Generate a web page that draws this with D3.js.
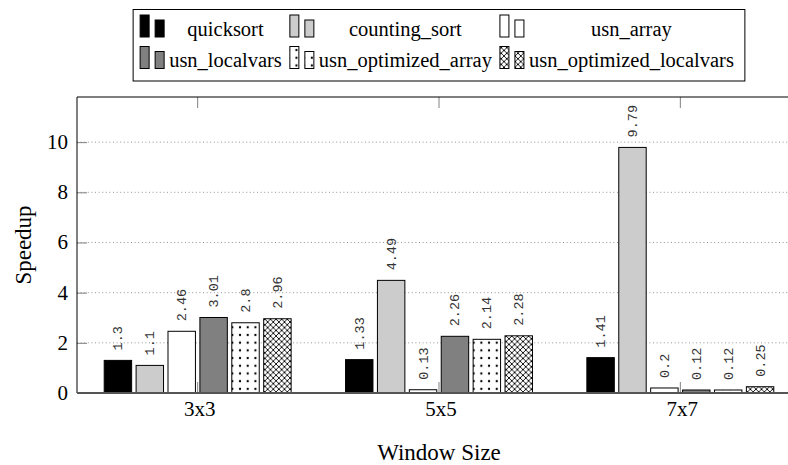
<!DOCTYPE html>
<html>
<head>
<meta charset="utf-8">
<script src="https://cdn.jsdelivr.net/npm/d3@7"></script>
<style>
  body { margin: 0; background: #fff; }
  svg { display: block; }
  text { font-family: "Liberation Serif", "Times New Roman", serif; fill: #000; }
</style>
</head>
<body>
<div id="chart"></div>
<script>
// donnees
const categories = ["3x3", "5x5", "7x7"];
const series = ["quicksort", "counting_sort", "usn_array", "usn_localvars", "usn_optimized_array", "usn_optimized_localvars"];
const quicksort = [1.3, 1.33, 1.41];
const countingSort = [1.1, 4.49, 9.79];
const usnArray = [2.46, 0.13, 0.2];
const usnLocalvars = [3.01, 2.26, 0.12];
const usnOptimizedArray = [2.8, 2.14, 0.12];
const usnOptimizedLocalvars = [2.96, 2.28, 0.25];
const yTicks = [0, 2, 4, 6, 8, 10];

const values = [quicksort, countingSort, usnArray, usnLocalvars, usnOptimizedArray, usnOptimizedLocalvars];
const fills = ["#000", "#cccccc", "#fff", "#808080", "url(#dots)", "url(#crosshatch)"];

const W = 788, H = 465;
const plot = { left: 77, right: 801, top: 97, bottom: 393 };

const svg = d3.select("#chart").append("svg")
    .attr("width", W)
    .attr("height", H);

// motifs
const defs = svg.append("defs");
const dots = defs.append("pattern")
    .attr("id", "dots")
    .attr("patternUnits", "userSpaceOnUse")
    .attr("width", 7.7).attr("height", 7.7);
dots.append("rect").attr("width", 7.7).attr("height", 7.7).attr("fill", "#fff");
dots.append("circle").attr("cx", 3.85).attr("cy", 3.85).attr("r", 1.15).attr("fill", "#000");

const hatch = defs.append("pattern")
    .attr("id", "crosshatch")
    .attr("patternUnits", "userSpaceOnUse")
    .attr("width", 5.6).attr("height", 5.6);
hatch.append("rect").attr("width", 5.6).attr("height", 5.6).attr("fill", "#fff");
hatch.append("path")
    .attr("d", "M0,0L5.6,5.6M5.6,0L0,5.6M-1,1L1,-1M4.6,6.6L6.6,4.6M-1,4.6L1,6.6M4.6,-1L6.6,1")
    .attr("stroke", "#000").attr("stroke-width", 0.9);

const x0 = d3.scaleBand().domain(categories).range([plot.left, plot.right]);
const half = 6 * 31.9 / 2;
const x1 = d3.scaleBand().domain(series).range([-half, half]).paddingInner(0.14).paddingOuter(0.07);
const y = d3.scaleLinear().domain([0, 11.8]).range([plot.bottom, plot.top]);
const cx = c => x0(c) + x0.bandwidth() / 2;

// grille pointillee
svg.append("g")
    .selectAll("line")
    .data(yTicks.filter(d => d > 0))
    .join("line")
    .attr("x1", plot.left).attr("x2", plot.right)
    .attr("y1", d => y(d)).attr("y2", d => y(d))
    .attr("stroke", "#8a8a8a")
    .attr("stroke-width", 0.9)
    .attr("stroke-dasharray", "1,2.6");

// axe y
const yAxis = svg.append("g")
    .attr("transform", `translate(${plot.left},0)`)
    .call(d3.axisRight(y).tickValues(yTicks).tickSize(10).tickFormat(""));
yAxis.select(".domain").remove();
yAxis.selectAll(".tick line").attr("stroke", "#808080");

svg.append("g")
    .selectAll("text")
    .data(yTicks)
    .join("text")
    .attr("x", 68)
    .attr("y", d => y(d) + 7)
    .attr("text-anchor", "end")
    .style("font-size", "21px")
    .text(d => d);

// ticks haut et bas
const xTop = svg.append("g")
    .attr("transform", `translate(0,${plot.top})`)
    .call(d3.axisBottom(x0).tickSize(11).tickFormat(""));
xTop.select(".domain").remove();
xTop.selectAll(".tick line").attr("stroke", "#808080");

const xBottom = svg.append("g")
    .attr("transform", `translate(0,${plot.bottom})`)
    .call(d3.axisTop(x0).tickSize(11).tickFormat(""));
xBottom.select(".domain").remove();
xBottom.selectAll(".tick line").attr("stroke", "#808080");

svg.append("g")
    .selectAll("text")
    .data(categories)
    .join("text")
    .attr("x", d => cx(d) + 2)
    .attr("y", 416)
    .attr("text-anchor", "middle")
    .style("font-size", "21px")
    .text(d => d);

// barres
const groups = svg.append("g")
    .selectAll("g")
    .data(categories)
    .join("g")
    .attr("transform", d => `translate(${cx(d)},0)`);

const cells = groups.selectAll("g")
    .data((c, ci) => series.map((s, si) => ({ s, si, v: values[si][ci] })))
    .join("g");

cells.append("rect")
    .attr("x", d => x1(d.s))
    .attr("y", d => y(d.v))
    .attr("width", x1.bandwidth())
    .attr("height", d => y(0) - y(d.v))
    .attr("fill", d => fills[d.si])
    .attr("stroke", "#000")
    .attr("stroke-width", 1);

cells.append("text")
    .attr("transform", d => `translate(${x1(d.s) + x1.bandwidth() / 2 + 4.5},${y(d.v) - 10}) rotate(-90)`)
    .attr("text-anchor", "start")
    .style("font-family", "'Liberation Mono', monospace")
    .style("font-size", "13.5px")
    .style("fill", "#333")
    .text(d => d.v);

// cadre
svg.append("path")
    .attr("d", `M${plot.left},${plot.bottom}V${plot.top}H${plot.right}`)
    .attr("fill", "none")
    .attr("stroke", "#000")
    .attr("stroke-width", 1);
svg.append("line")
    .attr("x1", plot.left).attr("x2", plot.right)
    .attr("y1", plot.bottom).attr("y2", plot.bottom)
    .attr("stroke", "#555")
    .attr("stroke-width", 1.8);

// titres des axes
svg.append("text")
    .attr("transform", `translate(31,${(plot.top + plot.bottom) / 2}) rotate(-90)`)
    .attr("text-anchor", "middle")
    .style("font-size", "23px")
    .text("Speedup");

svg.append("text")
    .attr("x", (plot.left + plot.right) / 2)
    .attr("y", 460)
    .attr("text-anchor", "middle")
    .style("font-size", "23px")
    .text("Window Size");

// legende
const legend = svg.append("g");
const legendSize = "20.5px";
const widths = series.map(s => {
    const t = legend.append("text").style("font-size", legendSize).text(s);
    const w = t.node().getComputedTextLength();
    t.remove();
    return w;
});
const colW = [0, 1, 2].map(j => Math.max(widths[j], widths[j + 3]));
const imgW = 25;
const boxW = 7 + 3 * imgW + 3 * 4 + 2 * 8 + 11 + d3.sum(colW);
const boxX = (plot.left + plot.right) / 2 - boxW / 2;
const rowBase = [35.5, 67];

legend.append("rect")
    .attr("x", boxX).attr("y", 9.5)
    .attr("width", boxW).attr("height", 71.5)
    .attr("fill", "#fff")
    .attr("stroke", "#000")
    .attr("stroke-width", 1);

let colX = [];
let cur = boxX + 7;
colW.forEach(w => {
    colX.push(cur);
    cur += imgW + 4 + w + 8;
});

series.forEach((s, i) => {
    const j = i % 3, r = Math.floor(i / 3);
    const ix = colX[j], base = rowBase[r] + 1.5;
    legend.append("rect")
        .attr("x", ix).attr("y", base - 22)
        .attr("width", 9).attr("height", 22)
        .attr("fill", fills[i]).attr("stroke", "#000");
    legend.append("rect")
        .attr("x", ix + 15).attr("y", base - 17)
        .attr("width", 9).attr("height", 17)
        .attr("fill", fills[i]).attr("stroke", "#000");
    legend.append("text")
        .attr("x", ix + imgW + 4 + colW[j] / 2)
        .attr("y", rowBase[r])
        .attr("text-anchor", "middle")
        .style("font-size", legendSize)
        .text(s);
});
</script>
</body>
</html>
